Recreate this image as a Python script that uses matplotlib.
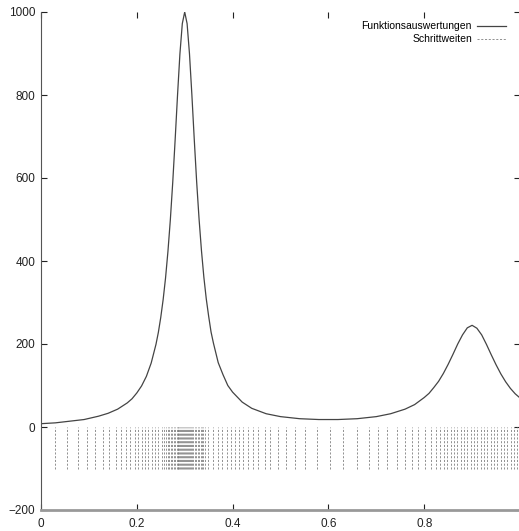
import matplotlib
matplotlib.use("Agg")
import matplotlib.pyplot as plt

# curve (function evaluations)
x_curve = [0.00, 0.03, 0.06, 0.09, 0.12, 0.14, 0.16, 0.18, 0.19, 0.20,
           0.21, 0.22, 0.23, 0.24, 0.245, 0.25, 0.255, 0.26, 0.265, 0.27,
           0.275, 0.28, 0.285, 0.29, 0.295, 0.30, 0.305, 0.31, 0.315, 0.32,
           0.325, 0.33, 0.335, 0.34, 0.345, 0.35, 0.355, 0.36, 0.37, 0.38,
           0.39, 0.40, 0.42, 0.44, 0.47, 0.50, 0.54, 0.58, 0.62, 0.66,
           0.70, 0.73, 0.76, 0.78, 0.80, 0.81, 0.82, 0.83, 0.84, 0.85,
           0.86, 0.87, 0.88, 0.89, 0.90, 0.91, 0.92, 0.93, 0.94, 0.95,
           0.96, 0.97, 0.98, 0.99, 1.00]
y_curve = [8, 10, 14, 18, 26, 33, 43, 58, 68, 82,
           99, 122, 154, 199, 228, 264, 307, 359, 423, 499,
           589, 691, 799, 899, 972, 1000, 972, 899, 800, 692,
           590, 501, 425, 361, 309, 267, 229, 202, 155, 126,
           100, 84, 60, 45, 32, 25, 20, 18, 18, 20,
           25, 32, 43, 54, 71, 81, 95, 110, 129, 151,
           175, 200, 222, 239, 245, 238, 222, 199, 174, 150,
           128, 109, 93, 80, 70]

# step positions (Schrittweiten)
x_steps = [0.029, 0.054, 0.077, 0.097, 0.113, 0.129, 0.143, 0.157, 0.168, 0.177,
           0.186, 0.196, 0.203, 0.210, 0.217, 0.224, 0.231, 0.238, 0.245,
           0.252, 0.257, 0.261, 0.265, 0.268, 0.271, 0.274, 0.277, 0.280, 0.283,
           0.285, 0.287, 0.289, 0.291, 0.293, 0.295, 0.297, 0.299, 0.301, 0.303,
           0.305, 0.307, 0.309, 0.311, 0.313, 0.315, 0.318, 0.321, 0.324, 0.327,
           0.330, 0.333, 0.336, 0.339, 0.342,
           0.349, 0.360, 0.369, 0.378, 0.388, 0.396, 0.405, 0.413, 0.422, 0.433,
           0.443, 0.454, 0.468, 0.478, 0.495, 0.511, 0.530, 0.551, 0.576, 0.603,
           0.630, 0.660, 0.685, 0.704, 0.722, 0.743, 0.760, 0.774, 0.788, 0.802,
           0.814, 0.825, 0.833, 0.841, 0.848, 0.855, 0.862, 0.869, 0.876, 0.883,
           0.890, 0.897, 0.904, 0.911, 0.918, 0.925, 0.932, 0.939, 0.946, 0.953,
           0.960, 0.966, 0.973, 0.981, 0.987, 0.994]
step_top = 0
step_bottom = -100

x_ticks = [0, 0.2, 0.4, 0.6, 0.8, 1]
x_ticklabels = ["0", "0.2", "0.4", "0.6", "0.8", ""]
y_ticks = [-200, 0, 200, 400, 600, 800, 1000]

plt.rcParams['font.family'] = ['Liberation Sans', 'DejaVu Sans']

fig = plt.figure(figsize=(5.19, 5.31), dpi=100)
ax = fig.add_axes([41 / 519, 21 / 531, 479 / 519, 498 / 531])

ax.plot(x_curve, y_curve, color='#444444', lw=0.9, label='Funktionsauswertungen')
ax.vlines(x_steps, step_bottom, step_top, colors='#808080', lw=0.6,
          linestyles=(0, (2.5, 2)), label='Schrittweiten')

ax.set_xlim(0, 1)
ax.set_ylim(-200, 1000)
ax.set_xticks(x_ticks)
ax.set_xticklabels(x_ticklabels)
ax.set_yticks(y_ticks)
ax.tick_params(direction='in', length=4, width=0.8, top=True, right=True,
               labelsize=8.5, colors='#222222', pad=4)
ax.tick_params(axis='x', pad=6)
ax.spines['top'].set_visible(False)
ax.spines['left'].set_color('#555555')
ax.spines['bottom'].set_color('#999999')
ax.spines['bottom'].set_linewidth(2)
ax.spines['right'].set_color('#555555')

leg = ax.legend(loc='upper right', bbox_to_anchor=(0.98, 0.99), frameon=False,
                fontsize=7.5, markerfirst=False, handlelength=2.8,
                handletextpad=0.5, labelspacing=0.3, borderaxespad=0)
for t in leg.get_texts():
    t.set_ha('right')

fig.savefig('out.png', dpi=100)
